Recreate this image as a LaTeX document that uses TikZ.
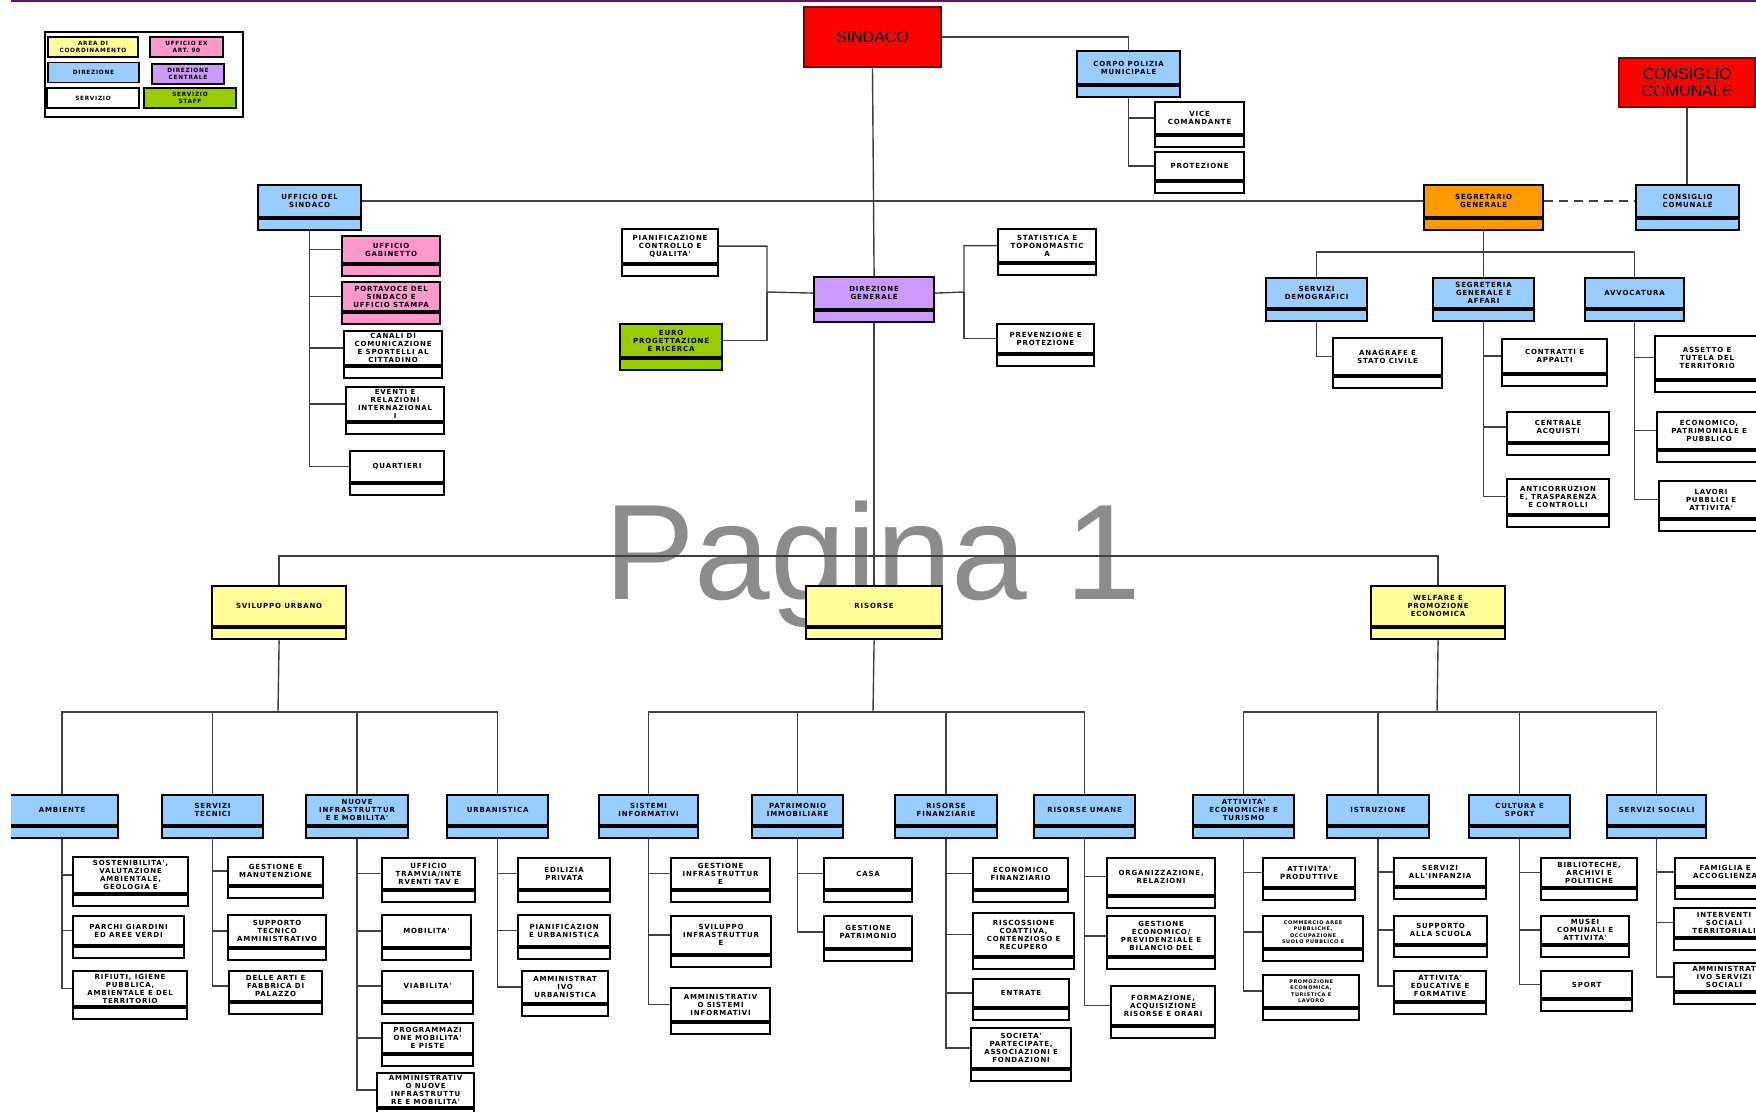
\documentclass[tikz,border=0pt]{standalone}
\usepackage{fontspec}
\usepackage{tikz}
\usetikzlibrary{positioning}
\newfontfamily\ubf[LetterSpace=12]{DejaVu Sans}
\newfontfamily\arialf{Liberation Sans}
\definecolor{dirblue}{RGB}{153,204,255}
\definecolor{areayel}{RGB}{255,255,153}
\definecolor{exrosa}{RGB}{255,153,204}
\definecolor{dcviola}{RGB}{204,153,255}
\definecolor{staffverde}{RGB}{153,204,0}
\definecolor{segarancio}{RGB}{255,153,0}
\definecolor{rosso}{RGB}{255,0,0}
\definecolor{rossoscuro}{RGB}{120,0,0}
\definecolor{filo}{RGB}{64,64,64}
\definecolor{pagina}{RGB}{140,140,140}
\definecolor{testata}{RGB}{90,20,120}

% box with a thin strip under it: [style]{name}{x,y top left}{width}{height}{text}
\newcommand{\ufficio}[6][svc]{%
  \node[#1, anchor=north west, minimum width=#4, minimum height=#5] (#2) at (#3) {#6};
  \node[#1, strip, minimum width=#4, below=0pt of #2] (#2s) {};}

\begin{document}
\begin{tikzpicture}[x=1pt,y=-1pt,
  box/.style={draw=black, line width=2.2, inner sep=1pt, align=center,
    font=\ubf\bfseries\fontsize{7}{8}\selectfont},
  svc/.style={box, fill=white},
  dir/.style={box, fill=dirblue},
  area/.style={box, fill=areayel},
  ex/.style={box, fill=exrosa},
  dc/.style={box, fill=dcviola},
  staff/.style={box, fill=staffverde},
  seg/.style={box, fill=segarancio},
  smalltxt/.style={font=\ubf\bfseries\fontsize{5}{6.4}\selectfont},
  strip/.style={minimum height=11, inner sep=0pt},
  leg/.style={line width=1.8, minimum height=20, inner sep=0.5pt,
    font=\ubf\bfseries\fontsize{5.8}{6.4}\selectfont},
  capo/.style={draw=rossoscuro, line width=2.6, fill=rosso, align=center,
    font=\arialf\fontsize{16}{17}\selectfont},
  conn/.style={draw=filo, line width=1.4},
  wmark/.style={text=pagina, font=\arialf\fontsize{136}{136}\selectfont}]

  \useasboundingbox (0,0) rectangle (1756,1111);
  \clip (11,0) rectangle (1756,1111);

  \node[wmark, anchor=base west, inner sep=0pt] (pag) at (604,599) {Pagina 1};
  \draw[line width=1.5, testata] (11,1) -- (1756,1);

  % legenda
  \draw[line width=1.2] (45,32) rectangle (243,117);
  \node[box, leg, fill=areayel, minimum width=90] (lArea) at (93,47) {AREA DI\\COORDINAMENTO};
  \node[box, leg, fill=exrosa, minimum width=73] (lEx) at (186.5,47) {UFFICIO EX\\ART. 90};
  \node[box, leg, fill=dirblue, minimum width=91] (lDir) at (93.5,72.5) {DIREZIONE};
  \node[box, leg, fill=dcviola, minimum width=72] (lDc) at (188,74) {DIREZIONE\\CENTRALE};
  \node[box, leg, fill=white, minimum width=92] (lSvc) at (93,98) {SERVIZIO};
  \node[box, leg, fill=staffverde, minimum width=92] (lStaff) at (190,98) {SERVIZIO\\STAFF};

  % vertice
  \node[capo, minimum width=137, minimum height=60] (sin) at (872.5,37) {SINDACO};
  \node[capo, minimum width=136, minimum height=49] (cc) at (1687,82.5) {CONSIGLIO\\COMUNALE};

  \ufficio[dir]{pol}{1076,50}{103}{33}{CORPO POLIZIA\\MUNICIPALE}
  \ufficio{vice}{1154,101}{89}{32}{VICE\\COMANDANTE}
  \ufficio{prot}{1154,151}{89}{28}{PROTEZIONE}

  \ufficio[dir]{uff}{257,184}{103}{32}{UFFICIO DEL\\SINDACO}
  \ufficio[ex]{gab}{341,235}{98}{27}{UFFICIO\\GABINETTO}
  \ufficio[ex]{port}{341,281}{98}{29}{PORTAVOCE DEL\\SINDACO E\\UFFICIO STAMPA}
  \ufficio{can}{343,330}{98}{34}{CANALI DI\\COMUNICAZIONE\\E SPORTELLI AL\\CITTADINO}
  \ufficio{eve}{345,386}{98}{34}{EVENTI E\\RELAZIONI\\INTERNAZIONAL\\I}
  \ufficio{qua}{349,450}{94}{31}{QUARTIERI}

  \ufficio[dc]{dg}{813,276}{120}{32}{DIREZIONE\\GENERALE}
  \ufficio{pian}{621,228}{96}{34}{PIANIFICAZIONE\\CONTROLLO E\\QUALITA'}
  \ufficio[staff]{euro}{619,323}{102}{33}{EURO\\PROGETTAZIONE\\E RICERCA}
  \ufficio{stat}{997,228}{98}{33}{STATISTICA E\\TOPONOMASTIC\\A}
  \ufficio{prev}{996,323}{97}{29}{PREVENZIONE E\\PROTEZIONE}

  \ufficio[seg]{seg}{1423,184}{119}{32}{SEGRETARIO\\GENERALE}
  \ufficio[dir]{ccb}{1635,184}{103}{32}{CONSIGLIO\\COMUNALE}
  \ufficio[dir]{dem}{1265,277}{101}{30}{SERVIZI\\DEMOGRAFICI}
  \ufficio[dir]{segr}{1432,277}{101}{30}{SEGRETERIA\\GENERALE E\\AFFARI}
  \ufficio[dir]{avv}{1584,277}{99}{30}{AVVOCATURA}
  \ufficio{ana}{1332,337}{109}{37}{ANAGRAFE E\\STATO CIVILE}
  \ufficio{con}{1501,338}{105}{34}{CONTRATTI E\\APPALTI}
  \ufficio{cen}{1506,411}{102}{30}{CENTRALE\\ACQUISTI}
  \ufficio{anti}{1506,478}{102}{35}{ANTICORRUZION\\E, TRASPARENZA\\E CONTROLLI}
  \ufficio{ass}{1654,335}{104}{43}{ASSETTO E\\TUTELA DEL\\TERRITORIO}
  \ufficio{eco}{1656,411}{104}{37}{ECONOMICO,\\PATRIMONIALE E\\PUBBLICO}
  \ufficio{lav}{1658,480}{104}{37}{LAVORI\\PUBBLICI E\\ATTIVITA'}

  % aree di coordinamento
  \ufficio[area]{svil}{211,585}{134}{40}{SVILUPPO URBANO}
  \ufficio[area]{ris}{805,585}{136}{40}{RISORSE}
  \ufficio[area]{wel}{1370,585}{134}{40}{WELFARE E\\PROMOZIONE\\ECONOMICA}

  % direzioni
  \ufficio[dir]{amb}{5,794}{112}{30}{AMBIENTE}
  \ufficio[dir]{st}{161,794}{101}{30}{SERVIZI\\TECNICI}
  \ufficio[dir]{nuo}{305,794}{102}{30}{NUOVE\\INFRASTRUTTUR\\E E MOBILITA'}
  \ufficio[dir]{urb}{446,794}{101}{30}{URBANISTICA}
  \ufficio[dir]{sis}{598,794}{99}{30}{SISTEMI\\INFORMATIVI}
  \ufficio[dir]{pat}{751,794}{91}{30}{PATRIMONIO\\IMMOBILIARE}
  \ufficio[dir]{rfi}{894,794}{102}{30}{RISORSE\\FINANZIARIE}
  \ufficio[dir]{rum}{1033,794}{101}{30}{RISORSE UMANE}
  \ufficio[dir]{att}{1192,794}{101}{30}{ATTIVITA'\\ECONOMICHE E\\TURISMO}
  \ufficio[dir]{ist}{1326,794}{102}{30}{ISTRUZIONE}
  \ufficio[dir]{cul}{1468,794}{101}{30}{CULTURA E\\SPORT}
  \ufficio[dir]{soc}{1606,794}{99}{30}{SERVIZI SOCIALI}

  % servizi
  \ufficio{sost}{72,856}{115}{36}{SOSTENIBILITA',\\VALUTAZIONE\\AMBIENTALE,\\GEOLOGIA E}
  \ufficio{parc}{72,915}{111}{29}{PARCHI GIARDINI\\ED AREE VERDI}
  \ufficio{rif}{72,970}{114}{35}{RIFIUTI, IGIENE\\PUBBLICA,\\AMBIENTALE E DEL\\TERRITORIO}
  \ufficio{gman}{227,856}{95}{28}{GESTIONE E\\MANUTENZIONE}
  \ufficio{supp}{227,914}{98}{32}{SUPPORTO\\TECNICO\\AMMINISTRATIVO}
  \ufficio{arti}{228,970}{93}{30}{DELLE ARTI E\\FABBRICA DI\\PALAZZO}
  \ufficio{tram}{381,857}{93}{31}{UFFICIO\\TRAMVIA/INTE\\RVENTI TAV E}
  \ufficio{mob}{381,914}{89}{32}{MOBILITA'}
  \ufficio{via}{381,970}{91}{30}{VIABILITA'}
  \ufficio{prog}{381,1022}{91}{30}{PROGRAMMAZI\\ONE MOBILITA'\\E PISTE}
  \ufficio{ammn}{376,1072}{97}{34}{AMMINISTRATIV\\O NUOVE\\INFRASTRUTTU\\RE E MOBILITA'}
  \ufficio{edi}{517,857}{92}{31}{EDILIZIA\\PRIVATA}
  \ufficio{purb}{517,914}{92}{31}{PIANIFICAZION\\E URBANISTICA}
  \ufficio{amu}{521,970}{86}{32}{AMMINISTRAT\\IVO\\URBANISTICA}
  \ufficio{gin}{670,857}{99}{31}{GESTIONE\\INFRASTRUTTUR\\E}
  \ufficio{svi}{670,915}{100}{38}{SVILUPPO\\INFRASTRUTTUR\\E}
  \ufficio{asi}{670,987}{99}{33}{AMMINISTRATIV\\O SISTEMI\\INFORMATIVI}
  \ufficio{casa}{823,857}{88}{31}{CASA}
  \ufficio{gpat}{823,915}{88}{32}{GESTIONE\\PATRIMONIO}
  \ufficio{ecf}{972,857}{95}{31}{ECONOMICO\\FINANZIARIO}
  \ufficio{risc}{972,912}{101}{43}{RISCOSSIONE\\COATTIVA,\\CONTENZIOSO E\\RECUPERO}
  \ufficio{ent}{972,978}{96}{28}{ENTRATE}
  \ufficio{soci}{970,1027}{100}{40}{SOCIETA'\\PARTECIPATE,\\ASSOCIAZIONI E\\FONDAZIONI}
  \ufficio{org}{1106,857}{108}{37}{ORGANIZZAZIONE,\\RELAZIONI}
  \ufficio{gec}{1106,915}{108}{40}{GESTIONE\\ECONOMICO/\\PREVIDENZIALE E\\BILANCIO DEL}
  \ufficio{form}{1110,985}{104}{39}{FORMAZIONE,\\ACQUISIZIONE\\RISORSE E ORARI}
  \ufficio{apr}{1262,857}{92}{29}{ATTIVITA'\\PRODUTTIVE}
  \ufficio[svc,smalltxt]{comm}{1262,915}{100}{32}{COMMERCIO AREE\\PUBBLICHE,\\OCCUPAZIONE\\SUOLO PUBBLICO E}
  \ufficio[svc,smalltxt]{prom}{1262,974}{96}{32}{PROMOZIONE\\ECONOMICA,\\TURISTICA E\\LAVORO}
  \ufficio{sinf}{1393,857}{92}{28}{SERVIZI\\ALL'INFANZIA}
  \ufficio{ssc}{1393,915}{93}{28}{SUPPORTO\\ALLA SCUOLA}
  \ufficio{aed}{1393,970}{92}{30}{ATTIVITA'\\EDUCATIVE E\\FORMATIVE}
  \ufficio{bib}{1540,857}{96}{29}{BIBLIOTECHE,\\ARCHIVI E\\POLITICHE}
  \ufficio{mus}{1540,915}{88}{28}{MUSEI\\COMUNALI E\\ATTIVITA'}
  \ufficio{spo}{1540,970}{91}{27}{SPORT}
  \ufficio{fam}{1674,857}{100}{28}{FAMIGLIA E\\ACCOGLIENZA}
  \ufficio{int}{1673,907}{100}{29}{INTERVENTI\\SOCIALI\\TERRITORIALI}
  \ufficio{ams}{1673,962}{100}{28}{AMMINISTRAT\\IVO SERVIZI\\SOCIALI}

  % collegamenti in alto
  \draw[conn] (sin.south) -- (dg.north);
  \draw[conn] (sin.east) -| (pol.north);
  \draw[conn] (pols.south) |- (vice.west);
  \draw[conn] (pols.south) |- (prot.west);
  \draw[conn] (uff.east) -- (seg.west);
  \draw[conn, dashed, dash pattern=on 9pt off 6pt] (seg.east) -- (ccb.west);
  \draw[conn] (cc.south) -- (cc.south |- ccb.north);
  \foreach \f in {gab,port,can,eve,qua}
    \draw[conn] (uffs.south) |- (\f.west);

  \coordinate (dgl) at (767,292);
  \coordinate (dgr) at (964,292);
  \draw[conn] (dg.west) -- (dgl) |- (pian.east);
  \draw[conn] (dgl) |- (euro.east);
  \draw[conn] (dg.east) -- (dgr) |- (stat.west);
  \draw[conn] (dgr) |- (prev.west);

  \coordinate (gbus) at (1482.5,252);
  \draw[conn] (segs.south) -- (segr.north);
  \draw[conn] (dem.north) |- (gbus) -| (avv.north);
  \draw[conn] (dems.south) |- (ana.west);
  \foreach \f in {con,cen,anti}
    \draw[conn] (segrs.south) |- (\f.west);
  \foreach \f in {ass,eco,lav}
    \draw[conn] (avvs.south) |- (\f.west);

  % aree
  \coordinate (tbus) at (873,556);
  \draw[conn] (dgs.south) -- (ris.north);
  \draw[conn] (svil.north) |- (tbus) -| (wel.north);

  \coordinate (sbus) at (278,712);
  \coordinate (rbus) at (873,712);
  \coordinate (wbus) at (1437,712);
  \draw[conn] (svils.south) -- (sbus);
  \draw[conn] (riss.south) -- (rbus);
  \draw[conn] (wels.south) -- (wbus);
  \draw[conn] (amb.north) |- (sbus) -| (urb.north);
  \draw[conn] (st.north) |- (sbus);
  \draw[conn] (nuo.north) |- (sbus);
  \draw[conn] (sis.north) |- (rbus) -| (rum.north);
  \draw[conn] (pat.north) |- (rbus);
  \draw[conn] (rfi.north) |- (rbus);
  \draw[conn] (att.north) |- (wbus) -| (soc.north);
  \draw[conn] (ist.north) |- (wbus);
  \draw[conn] (cul.north) |- (wbus);

  % servizi sotto le direzioni
  \foreach \d/\f in {amb/sost,amb/parc,amb/rif,st/gman,st/supp,st/arti,
      nuo/tram,nuo/mob,nuo/via,nuo/prog,nuo/ammn,urb/edi,urb/purb,urb/amu,
      sis/gin,sis/svi,sis/asi,pat/casa,pat/gpat,rfi/ecf,rfi/risc,rfi/ent,rfi/soci,
      rum/org,rum/gec,rum/form,att/apr,att/comm,att/prom,ist/sinf,ist/ssc,ist/aed,
      cul/bib,cul/mus,cul/spo,soc/fam,soc/int,soc/ams}
    \draw[conn] (\d s.south) |- (\f.west);
\end{tikzpicture}
\end{document}
